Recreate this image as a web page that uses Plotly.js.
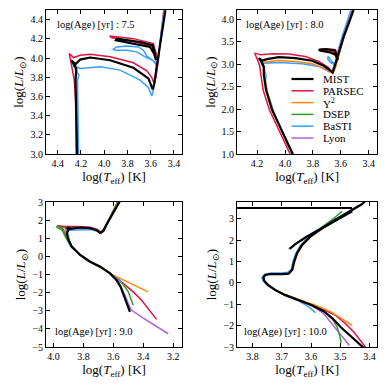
<!DOCTYPE html>
<html>
<head>
<meta charset="utf-8">
<script src="https://cdn.plot.ly/plotly-3.0.1.min.js"></script>
<style>
  html, body { margin: 0; padding: 0; background: #fff; }
  #chart { width: 390px; height: 390px; }
</style>
</head>
<body>
<div id="chart"></div>
<script>
// isochrones: log(Teff) vs log(L/Lsun), null = gap between pieces

// log(Age) = 7.5
const mist75_logT = [4.232, 4.24, 4.246, 4.24, 4.283, 4.246, 4.206, 4.12, 3.949, 3.749, 3.62, 3.583, 3.569, 3.549, 3.526, 3.503, 3.474, 3.463, null, 3.554, 3.583, 3.691, 3.891, 3.9, 3.749, 3.606, 3.571, 3.554];
const mist75_logL = [2.95, 3.564, 3.771, 3.892, 3.978, 3.937, 3.985, 4.006, 3.978, 3.899, 3.788, 3.674, 3.736, 3.909, 4.082, 4.255, 4.497, 4.58, null, 3.996, 4.134, 4.168, 4.203, 4.186, 4.151, 4.117, 4.047, 3.978];
const parsec75_logT = [4.24, 4.246, 4.257, 4.277, 4.297, 4.3, 4.263, 4.206, 4.12, 3.949, 3.749, 3.634, 3.591, 3.571, 3.554, 3.534, 3.511, 3.491, 3.48, null, 3.549, 3.577, 3.749, 3.954, 3.934, 3.749, 3.591, 3.554];
const parsec75_logL = [2.95, 3.564, 3.771, 3.909, 4.03, 4.047, 4.006, 4.03, 4.04, 4.013, 3.951, 3.868, 3.799, 3.736, 3.805, 3.978, 4.255, 4.497, 4.58, null, 4.03, 4.151, 4.203, 4.231, 4.213, 4.172, 4.123, 4.02];
const basti75_logT = [4.22, 4.226, 4.229, 4.217, 4.24, 4.269, 4.206, 4.034, 3.863, 3.691, 3.62, 3.591, 3.577, 3.56, 3.537, 3.511, 3.486, 3.474, null, 3.554, 3.591, 3.634, 3.663, 3.706, 3.806, 3.891, 3.926, 3.906, 3.806, 3.72, 3.649, 3.583, 3.549];
const basti75_logL = [2.95, 3.564, 3.771, 3.823, 3.875, 3.926, 3.892, 3.909, 3.875, 3.771, 3.695, 3.605, 3.667, 3.805, 3.978, 4.255, 4.497, 4.58, null, 3.951, 3.985, 4.02, 4.082, 4.117, 4.127, 4.117, 4.092, 4.082, 4.082, 4.065, 4.013, 3.978, 3.926];

// log(Age) = 8.0
const mist80_logT = [3.925, 4.016, 4.093, 4.136, 4.152, 4.152, 4.169, 4.188, 4.164, 4.128, 4.045, 3.925, 3.806, 3.722, 3.675, 3.658, 3.644, 3.62, 3.579, 3.543, 3.507, 3.491, null, 3.627, 3.644, 3.71, 3.758, 3.746, 3.675, 3.639, 3.62];
const mist80_logL = [0.874, 1.467, 1.985, 2.43, 2.763, 2.948, 3.059, 3.133, 3.081, 3.111, 3.156, 3.133, 3.074, 2.963, 2.859, 2.815, 2.948, 3.207, 3.615, 3.911, 4.207, 4.356, null, 3.17, 3.304, 3.333, 3.319, 3.296, 3.259, 3.207, 3.096];
const parsec80_logT = [3.944, 4.033, 4.112, 4.157, 4.174, 4.183, 4.207, 4.217, 4.176, 4.093, 3.973, 3.854, 3.758, 3.691, 3.663, 3.644, 3.62, 3.579, 3.548, 3.515, 3.5, null, 3.624, 3.639, 3.699, 3.753, 3.734, 3.663, 3.627];
const parsec80_logL = [0.874, 1.467, 1.985, 2.43, 2.763, 2.985, 3.17, 3.244, 3.207, 3.23, 3.222, 3.17, 3.059, 2.926, 2.837, 2.985, 3.281, 3.652, 3.948, 4.222, 4.356, null, 3.23, 3.319, 3.341, 3.333, 3.311, 3.281, 3.207];
const y2_80_logT = [3.93, 4.016, 4.088, 4.131, 4.145, 4.147, 4.164, 4.176, 4.152, 4.045, 3.925, 3.806, 3.722, 3.675, 3.658, 3.639, 3.615, 3.577, 3.543, 3.512, 3.496];
const y2_80_logL = [0.874, 1.452, 1.97, 2.415, 2.741, 2.926, 3.022, 3.074, 3.044, 3.081, 3.059, 3.007, 2.911, 2.815, 2.785, 2.911, 3.185, 3.6, 3.896, 4.207, 4.356];
const basti80_logT = [3.933, 4.016, 4.081, 4.128, 4.14, 4.136, 4.152, 4.169, 4.176, 4.152, 4.045, 3.878, 3.758, 3.699, 3.675, 3.658, 3.644, 3.624, 3.591, 3.555, 3.527, 3.512, null, 3.644, 3.675, 3.694, 3.691, 3.677, 3.658, 3.639];
const basti80_logL = [0.874, 1.452, 1.948, 2.393, 2.615, 2.763, 2.911, 3.007, 3.096, 3.022, 3.037, 3.007, 2.948, 2.859, 2.815, 2.874, 2.985, 3.244, 3.615, 3.948, 4.207, 4.356, null, 2.985, 3.037, 3.111, 3.17, 3.111, 3.037, 3.0];

// log(Age) = 9.0
const mist90_logT = [3.489, 3.507, 3.529, 3.551, 3.578, 3.622, 3.689, 3.756, 3.822, 3.878, 3.904, 3.911, 3.9, 3.911, 3.884, 3.822, 3.756, 3.711, 3.689, 3.667, 3.649, 3.622, 3.589, 3.56, 3.544];
const mist90_logL = [-3.063, -2.693, -2.139, -1.677, -1.307, -0.937, -0.567, -0.29, 0.08, 0.542, 1.004, 1.281, 1.466, 1.595, 1.521, 1.595, 1.558, 1.447, 1.3, 1.41, 1.706, 2.113, 2.575, 3.0, 3.22];
const parsec90_logT = [3.311, 3.356, 3.411, 3.467, 3.522, 3.567, 3.622, 3.689, 3.756, 3.822, 3.884, 3.916, 3.933, 3.956, 3.973, 3.933, 3.844, 3.756, 3.707, 3.684, 3.662, 3.633, 3.6, 3.573, 3.56];
const parsec90_logL = [-3.47, -2.97, -2.416, -1.954, -1.547, -1.251, -0.919, -0.549, -0.272, 0.098, 0.597, 1.096, 1.466, 1.651, 1.706, 1.651, 1.651, 1.614, 1.484, 1.336, 1.521, 1.965, 2.482, 2.945, 3.185];
const y2_90_logT = [3.367, 3.422, 3.489, 3.556, 3.611, 3.689, 3.756, 3.822, 3.878, 3.904, 3.916, 3.922, 3.9, 3.822, 3.744, 3.693, 3.667, 3.644, 3.611, 3.578, 3.564];
const y2_90_logL = [-1.954, -1.732, -1.455, -1.214, -0.993, -0.53, -0.272, 0.08, 0.542, 1.041, 1.336, 1.558, 1.558, 1.558, 1.503, 1.336, 1.447, 1.78, 2.298, 2.852, 3.07];
const dsep90_logT = [3.467, 3.478, 3.5, 3.533, 3.578, 3.622, 3.689, 3.756, 3.822, 3.884, 3.916, 3.933, 3.944, 3.973, 3.982, 3.944, 3.844, 3.756, 3.7, 3.682, 3.662, 3.633, 3.6, 3.573, 3.56];
const dsep90_logL = [-2.693, -2.416, -1.954, -1.547, -1.251, -0.93, -0.549, -0.272, 0.08, 0.542, 1.004, 1.281, 1.466, 1.595, 1.651, 1.595, 1.595, 1.558, 1.41, 1.3, 1.466, 1.928, 2.445, 2.945, 3.185];
const basti90_logT = [3.544, 3.578, 3.622, 3.689, 3.756, 3.822, 3.878, 3.896, 3.9, 3.911, 3.922, 3.9, 3.822, 3.744, 3.7, 3.682, 3.662, 3.633, 3.596, 3.567, 3.553];
const basti90_logL = [-1.436, -1.214, -0.937, -0.567, -0.29, 0.061, 0.486, 0.911, 1.189, 1.373, 1.466, 1.447, 1.484, 1.484, 1.373, 1.263, 1.41, 1.891, 2.482, 2.945, 3.185];
const lyon90_logT = [3.233, 3.289, 3.344, 3.4, 3.444, 3.478, 3.5, 3.522, 3.551, 3.578, 3.622, 3.678];
const lyon90_logL = [-4.264, -3.987, -3.71, -3.396, -3.155, -2.97, -2.601, -2.139, -1.677, -1.307, -0.937, -0.623];

// log(Age) = 10.0
const mist100_logT = [3.419, 3.442, 3.471, 3.499, 3.526, 3.557, 3.597, 3.642, 3.688, 3.722, 3.747, 3.76, 3.763, 3.757, 3.739, 3.699, 3.677, 3.665, 3.658, 3.648, 3.631, 3.602, 3.562, 3.517, 3.471, 3.425, 3.414, null, 3.46, 3.9, null, 3.673, 3.654, 3.619, 3.574, 3.517, 3.459];
const mist100_logL = [-3.047, -2.765, -2.421, -2.06, -1.669, -1.324, -1.042, -0.807, -0.572, -0.337, -0.102, 0.086, 0.243, 0.368, 0.415, 0.415, 0.431, 0.603, 0.995, 1.386, 1.778, 2.17, 2.561, 2.953, 3.313, 3.689, 3.83, null, 3.5, 3.5, null, 1.59, 1.809, 2.123, 2.483, 2.906, 3.345];
const parsec100_logT = [3.411, 3.431, 3.454, 3.482, 3.517, 3.551, 3.597, 3.642, 3.688, 3.722, 3.747, 3.761, 3.765, 3.757, 3.736, 3.697, 3.675, 3.664, 3.657, 3.647, 3.63, 3.601, 3.56, 3.514, 3.469, 3.425];
const parsec100_logL = [-3.047, -2.687, -2.295, -1.904, -1.512, -1.277, -1.026, -0.791, -0.556, -0.321, -0.086, 0.102, 0.258, 0.384, 0.431, 0.431, 0.462, 0.619, 0.995, 1.386, 1.778, 2.17, 2.561, 2.953, 3.313, 3.658];
const y2_100_logT = [3.459, 3.494, 3.528, 3.562, 3.597, 3.642, 3.688, 3.722, 3.747, 3.76, 3.762, 3.754, 3.734, 3.694, 3.674, 3.662, 3.656, 3.646, 3.629, 3.599, 3.558, 3.511, 3.466];
const y2_100_logL = [-1.982, -1.669, -1.387, -1.167, -0.979, -0.776, -0.556, -0.321, -0.071, 0.117, 0.274, 0.384, 0.431, 0.431, 0.462, 0.619, 0.995, 1.386, 1.778, 2.17, 2.561, 2.953, 3.31];
const dsep100_logT = [3.497, 3.502, 3.511, 3.528, 3.553, 3.594, 3.642, 3.688, 3.722, 3.747, 3.76, 3.763, 3.757, 3.739, 3.699, 3.677, 3.665, 3.658, 3.649, 3.633, 3.606, 3.568, 3.528, 3.494];
const dsep100_logL = [-2.796, -2.452, -2.06, -1.669, -1.355, -1.058, -0.807, -0.572, -0.337, -0.102, 0.086, 0.243, 0.368, 0.415, 0.415, 0.431, 0.603, 0.995, 1.386, 1.778, 2.17, 2.561, 2.953, 3.345];
const basti100_logT = [3.585, 3.608, 3.642, 3.688, 3.722, 3.75, 3.765, 3.768, 3.76, 3.739, 3.699, 3.679, 3.667, 3.662, 3.654, 3.637, 3.608, 3.568, 3.522, 3.477, 3.437, null, 3.677, 3.656, 3.625, 3.585, 3.528];
const basti100_logL = [-1.387, -1.12, -0.838, -0.588, -0.353, -0.102, 0.102, 0.258, 0.399, 0.462, 0.462, 0.493, 0.65, 0.995, 1.339, 1.747, 2.138, 2.53, 2.922, 3.298, 3.627, null, 1.574, 1.778, 2.091, 2.436, 2.843];
const lyon100_logT = [3.469, 3.488, 3.511, 3.534, 3.557, 3.585, 3.619];
const lyon100_logL = [-2.922, -2.609, -2.217, -1.825, -1.434, -1.167, -0.917];

const models = ['MIST', 'PARSEC', 'Y<sup>2</sup>', 'DSEP', 'BaSTI', 'Lyon'];
const colors = {MIST: '#000000', PARSEC: '#e0153f', Y2: '#ff8512', DSEP: '#2ca02c', BaSTI: '#3d9eff', Lyon: '#b45ee0'};
const legendColors = [colors.MIST, colors.PARSEC, colors.Y2, colors.DSEP, colors.BaSTI, colors.Lyon];
const ageLabels = ['7.5', '8.0', '9.0', '10.0'];

const FONT = 'Liberation Serif, Times New Roman, serif';

function iso(x, y, color, n, width) {
  return {
    x: x, y: y, type: 'scatter', mode: 'lines',
    xaxis: 'x' + (n === 1 ? '' : n), yaxis: 'y' + (n === 1 ? '' : n),
    line: {color: color, width: width || 1.5},
    connectgaps: false, showlegend: false, hoverinfo: 'skip'
  };
}

const data = [
  iso(parsec75_logT, parsec75_logL, colors.PARSEC, 1),
  iso(basti75_logT, basti75_logL, colors.BaSTI, 1),
  iso(mist75_logT, mist75_logL, colors.MIST, 1, 2.2),

  iso(parsec80_logT, parsec80_logL, colors.PARSEC, 2),
  iso(basti80_logT, basti80_logL, colors.BaSTI, 2),
  iso(y2_80_logT, y2_80_logL, colors.Y2, 2),
  iso(mist80_logT, mist80_logL, colors.MIST, 2, 2.2),

  iso(lyon90_logT, lyon90_logL, colors.Lyon, 3),
  iso(parsec90_logT, parsec90_logL, colors.PARSEC, 3),
  iso(y2_90_logT, y2_90_logL, colors.Y2, 3),
  iso(dsep90_logT, dsep90_logL, colors.DSEP, 3),
  iso(basti90_logT, basti90_logL, colors.BaSTI, 3),
  iso(mist90_logT, mist90_logL, colors.MIST, 3, 2.2),

  iso(lyon100_logT, lyon100_logL, colors.Lyon, 4),
  iso(parsec100_logT, parsec100_logL, colors.PARSEC, 4),
  iso(y2_100_logT, y2_100_logL, colors.Y2, 4),
  iso(dsep100_logT, dsep100_logL, colors.DSEP, 4),
  iso(basti100_logT, basti100_logL, colors.BaSTI, 4),
  iso(mist100_logT, mist100_logL, colors.MIST, 4, 2.2)
];

function ax(domain, range, dtick, fmt, anchor, title) {
  return {
    domain: domain, range: range, dtick: dtick, tick0: 0, tickformat: fmt,
    anchor: anchor, showgrid: false, zeroline: false,
    showline: true, mirror: 'ticks', linecolor: '#000', linewidth: 1,
    ticks: 'inside', ticklen: 4, tickcolor: '#000',
    tickfont: {family: FONT, size: 10, color: '#000'},
    title: {text: title, font: {family: FONT, size: 13, color: '#000'}, standoff: 3}
  };
}

const xt = 'log(<i>T</i><sub>eff</sub>) [K]';
const yt = 'log(<i>L</i>/<i>L</i><sub>⊙</sub>)';

const layout = {
  width: 390, height: 390,
  margin: {l: 0, r: 0, t: 0, b: 0},
  paper_bgcolor: '#fff', plot_bgcolor: '#fff',
  showlegend: false,
  font: {family: FONT, color: '#000'},
  xaxis: ax([0.118, 0.467], [4.5, 3.33], 0.2, '.1f', 'y', xt),
  yaxis: ax([0.605, 0.974], [3.0, 4.5], 0.2, '.1f', 'x', yt),
  xaxis2: ax([0.608, 0.967], [4.343, 3.34], 0.2, '.1f', 'y2', xt),
  yaxis2: ax([0.605, 0.974], [1.0, 4.2], 0.5, '.1f', 'x2', yt),
  xaxis3: ax([0.118, 0.467], [4.05, 3.14], 0.2, '.1f', 'y3', xt),
  yaxis3: ax([0.110, 0.482], [-5, 3], 1, 'd', 'x3', yt),
  xaxis4: ax([0.608, 0.967], [3.853, 3.374], 0.1, '.1f', 'y4', xt),
  yaxis4: ax([0.110, 0.482], [-3, 3.78], 1, 'd', 'x4', yt),
  annotations: [],
  shapes: []
};

// age labels
const agePos = [[1, 0.066, 0.9], [2, 0.052, 0.9], [3, 0.054, 0.106], [4, 0.033, 0.106]];
agePos.forEach(function (p, i) {
  const s = p[0] === 1 ? '' : p[0];
  layout.annotations.push({
    xref: 'x' + s + ' domain', yref: 'y' + s + ' domain', x: p[1], y: p[2],
    xanchor: 'left', yanchor: 'middle', showarrow: false,
    text: 'log(Age) [yr] : ' + ageLabels[i],
    font: {family: FONT, size: 10.5, color: '#000'}
  });
});

// legend drawn inside the top-right panel
const legTop = 79, legStep = 11.8;
models.forEach(function (m, i) {
  const yp = 1 - (legTop + i * legStep) / 390;
  layout.shapes.push({
    type: 'line', xref: 'paper', yref: 'paper',
    x0: 291.5 / 390, x1: 313.5 / 390, y0: yp, y1: yp,
    line: {color: legendColors[i], width: i === 0 ? 2.2 : 1.5}
  });
  layout.annotations.push({
    xref: 'paper', yref: 'paper', x: 321.5 / 390, y: yp,
    xanchor: 'left', yanchor: 'middle', showarrow: false, borderpad: 0,
    text: m, font: {family: FONT, size: 11, color: '#000'}
  });
});

Plotly.newPlot('chart', data, layout, {staticPlot: true});
</script>
</body>
</html>
